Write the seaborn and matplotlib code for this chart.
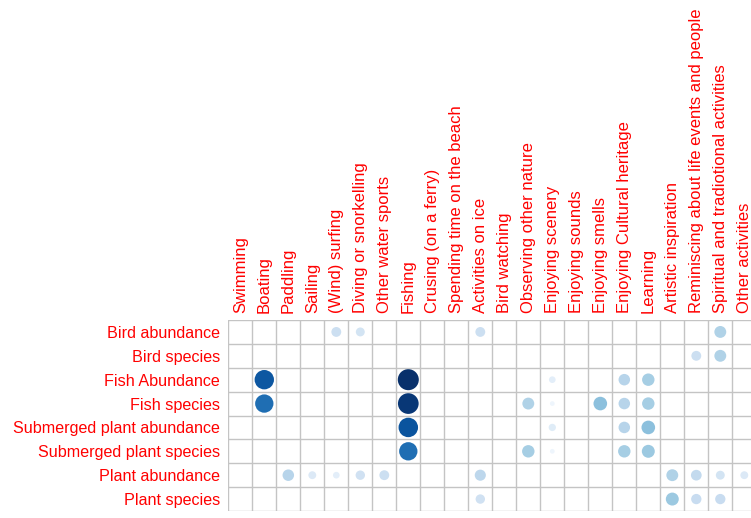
import matplotlib
matplotlib.use("Agg")
import matplotlib.pyplot as plt
import numpy as np
import pandas as pd
import seaborn as sns

ROWS = ["Bird abundance", "Bird species", "Fish Abundance", "Fish species",
        "Submerged plant abundance", "Submerged plant species",
        "Plant abundance", "Plant species"]

COLS = ["Swimming", "Boating", "Paddling", "Sailing", "(Wind) surfing",
        "Diving or snorkelling", "Other water sports", "Fishing",
        "Crusing (on a ferry)", "Spending time on the beach", "Activities on ice",
        "Bird watching", "Observing other nature", "Enjoying scenery",
        "Enjoying sounds", "Enjoying smells", "Enjoying Cultural heritage",
        "Learning", "Artistic inspiration",
        "Reminiscing about life events and people",
        "Spiritual and tradiotional activities", "Other activities"]

# non-empty cells: (row, column, value)
bird_abundance = [("(Wind) surfing", 0.22), ("Diving or snorkelling", 0.18),
                  ("Activities on ice", 0.22),
                  ("Spiritual and tradiotional activities", 0.32)]
bird_species = [("Reminiscing about life events and people", 0.22),
                ("Spiritual and tradiotional activities", 0.32)]
fish_abundance = [("Boating", 0.85), ("Fishing", 1.0), ("Enjoying scenery", 0.10),
                  ("Enjoying Cultural heritage", 0.30), ("Learning", 0.35)]
fish_species = [("Boating", 0.76), ("Fishing", 0.97), ("Observing other nature", 0.32),
                ("Enjoying scenery", 0.05), ("Enjoying smells", 0.42),
                ("Enjoying Cultural heritage", 0.30), ("Learning", 0.35)]
submerged_abundance = [("Fishing", 0.86), ("Enjoying scenery", 0.12),
                       ("Enjoying Cultural heritage", 0.30), ("Learning", 0.42)]
submerged_species = [("Fishing", 0.76), ("Observing other nature", 0.35),
                     ("Enjoying scenery", 0.05), ("Enjoying Cultural heritage", 0.35),
                     ("Learning", 0.38)]
plant_abundance = [("Paddling", 0.30), ("Sailing", 0.14), ("(Wind) surfing", 0.10),
                   ("Diving or snorkelling", 0.20), ("Other water sports", 0.22),
                   ("Activities on ice", 0.28), ("Artistic inspiration", 0.32),
                   ("Reminiscing about life events and people", 0.26),
                   ("Spiritual and tradiotional activities", 0.18),
                   ("Other activities", 0.14)]
plant_species = [("Activities on ice", 0.20), ("Artistic inspiration", 0.38),
                 ("Reminiscing about life events and people", 0.24),
                 ("Spiritual and tradiotional activities", 0.24)]

cells = [bird_abundance, bird_species, fish_abundance, fish_species,
         submerged_abundance, submerged_species, plant_abundance, plant_species]

records = []
for r, row_cells in enumerate(cells):
    for col, val in row_cells:
        records.append({"row": r, "col": COLS.index(col), "value": val})
df = pd.DataFrame(records)

W, H = 751, 518
fig = plt.figure(figsize=(W / 100, H / 100), dpi=100)
ax = fig.add_axes([228.3 / W, 7 / H, 24 * 22 / W, 191 / H])

sns.scatterplot(data=df, x="col", y="row", hue="value", size="value",
                palette="Blues", hue_norm=(0, 1), size_norm=(0, 1),
                sizes=(0, 229), linewidth=0, legend=False, ax=ax)

ax.set_xlim(-0.5, len(COLS) - 0.5)
ax.set_ylim(len(ROWS) - 0.5, -0.5)

for x in np.arange(-0.5, len(COLS), 1):
    ax.axvline(x, color="#c4c4c4", lw=1, zorder=0)
for y in np.arange(-0.5, len(ROWS), 1):
    ax.axhline(y, color="#c4c4c4", lw=1, zorder=0)
for s in ax.spines.values():
    s.set_visible(False)

ax.xaxis.tick_top()
ax.set_xticks(range(len(COLS)))
ax.set_xticklabels(COLS, rotation=90, color="red", fontsize=12,
                   family="Liberation Sans")
ax.set_yticks(range(len(ROWS)))
ax.set_yticklabels(ROWS, color="red", fontsize=11.6, family="Liberation Sans")
ax.tick_params(axis="x", length=0, pad=5)
ax.tick_params(axis="y", length=0, pad=6)
ax.set_xlabel("")
ax.set_ylabel("")

fig.savefig("out.png", dpi=100)
